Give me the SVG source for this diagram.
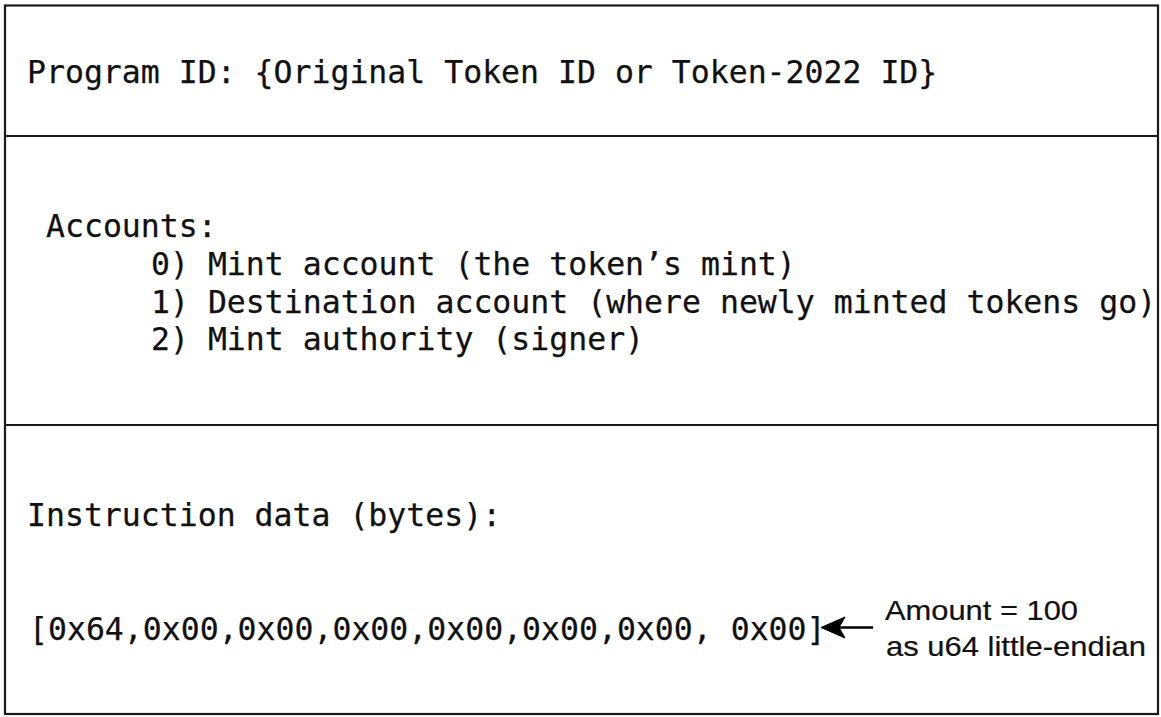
<svg xmlns="http://www.w3.org/2000/svg" width="1161" height="717" viewBox="0 0 1161 717">
<defs>
<style>
.frame{fill:#ffffff;stroke:#1a1a1a;stroke-width:2.2}
.div{stroke:#1a1a1a;stroke-width:2.2}
.mono{font-family:"DejaVu Sans Mono","Liberation Mono",monospace;font-size:31.5px;fill:#111111;stroke:#111111;stroke-width:0.25}
.sans{font-family:"Liberation Sans",Arial,sans-serif;font-size:28px;fill:#111111;stroke:#111111;stroke-width:0.2}
.conn{stroke:#000000;stroke-width:2.4;fill:none}
</style>
</defs>
<rect width="1161" height="717" fill="#ffffff"/>
<g id="instruction-box">
<rect class="frame" x="5" y="5.5" width="1153" height="708.5"/>
<line class="div" x1="5" y1="136" x2="1158" y2="136"/>
<line class="div" x1="5" y1="425" x2="1158" y2="425"/>
</g>
<g id="program-id">
<text class="mono" x="27" y="83">Program ID: {Original Token ID or Token-2022 ID}</text>
</g>
<g id="accounts">
<text class="mono" x="46" y="237">Accounts:</text>
<text class="mono" x="151" y="275">0) Mint account (the token’s mint)</text>
<text class="mono" x="151" y="313">1) Destination account (where newly minted tokens go)</text>
<text class="mono" x="151" y="350">2) Mint authority (signer)</text>
</g>
<g id="instruction-data">
<text class="mono" x="27" y="526">Instruction data (bytes):</text>
<text class="mono" x="29" y="640" xml:space="preserve">[0x64,0x00,0x00,0x00,0x00,0x00,0x00, 0x00]</text>
</g>
<g id="amount-note">
<text class="sans" x="885" y="620" textLength="193" lengthAdjust="spacingAndGlyphs">Amount = 100</text>
<text class="sans" x="886" y="656" textLength="260" lengthAdjust="spacingAndGlyphs">as u64 little-endian</text>
</g>
<g id="connectors">
<line class="conn" x1="873" y1="627.5" x2="838" y2="627.5"/>
<path d="M821,627.5 L845,617 L839,627.5 L845,638 Z" fill="#000000" stroke="#000000" stroke-width="1" stroke-linejoin="miter"/>
</g>
</svg>
